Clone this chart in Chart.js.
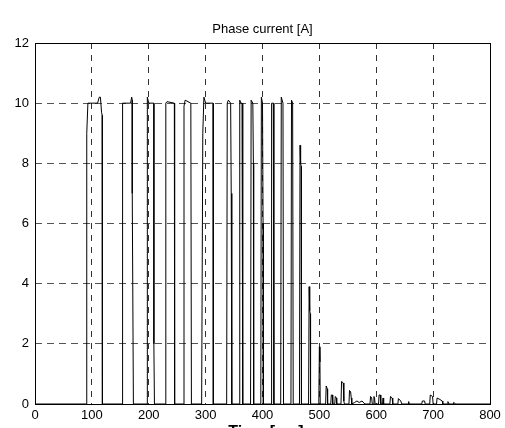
<!DOCTYPE html>
<html>
<head>
<meta charset="utf-8">
<script src="https://cdn.jsdelivr.net/npm/chart.js@4.4.0/dist/chart.umd.min.js"></script>
<style>
  html, body { margin: 0; padding: 0; background: #fff; }
</style>
</head>
<body>
<canvas id="chart" width="505" height="428"></canvas>
<script>
// phase current trace, time axis and current (A)
const chartTitle = 'Phase current [A]'
const xTitle = 'Time [ms]'
const xTicks = [0, 100, 200, 300, 400, 500, 600, 700, 800]
const yTicks = [0, 2, 4, 6, 8, 10, 12]

// big conduction pulses
const pulseTime = [
  0, 91, 91, 93, 110, 113, 115, 117, 118, 118, 119,
  153, 154, 168, 170, 171, 171, 173,
  197, 197, 198, 200, 209, 209, 210,
  230, 230, 232, 245, 245, 246,
  262, 262, 264, 274, 275,
  293, 295, 297, 300, 313, 313.5,
  337, 338, 340, 344, 345, 346,
  359, 360, 362, 364, 365, 365.5,
  379, 380, 383, 384, 384.5,
  397, 398, 400, 401, 401.5,
  415, 416, 419, 420,
  432, 433, 436, 437,
  450, 451, 453, 454,
  465, 466, 467, 468, 468.5,
  481, 482, 483, 484, 484.5,
  499, 500, 501, 501.5
]
const pulseCurrent = [
  0, 0, 9, 10, 10, 10.2, 10.2, 9.7, 9.6, 6, 0,
  0, 10, 10, 10.2, 10.1, 7, 0,
  0, 9, 10.2, 10, 10, 2, 0,
  0, 10, 10.05, 10, 7, 0,
  0, 9.9, 10.1, 10, 0,
  0, 9, 10.2, 10, 10, 0,
  0, 10, 10.1, 10, 7, 0,
  0, 10.1, 10, 10, 6, 0,
  0, 10.1, 10, 8, 0,
  0, 10.2, 10, 6, 0,
  0, 10, 10, 0,
  0, 10.2, 10, 0,
  0, 10.1, 10, 0,
  0, 8.6, 8.0, 7.9, 0,
  0, 3.9, 3.1, 3.0, 0,
  0, 1.9, 1.4, 0
]

// small residual ripples after switch-off
const tailTime = [
  511, 512, 514, 514.5, 520, 521, 523, 523.5, 527, 528, 530, 530.5,
  538, 539, 542, 543, 544, 552, 553, 555, 556, 557,
  562, 566, 570, 575, 580,
  589, 590, 592, 593, 595, 596, 597, 598,
  604, 605, 607, 608, 611, 612, 613,
  624, 625, 628, 629, 638, 639, 643, 645,
  656, 657, 658, 680, 681, 685, 686,
  694, 695, 699, 700, 706, 707, 712, 716, 717,
  725, 726, 728, 735, 736, 740, 800
]
const tailCurrent = [
  0, 0.6, 0.5, 0, 0, 0.3, 0.3, 0, 0, 0.25, 0.2, 0,
  0, 0.75, 0.7, 0.1, 0, 0, 0.45, 0.4, 0.2, 0,
  0.05, 0.1, 0.05, 0.1, 0,
  0, 0.25, 0.2, 0, 0, 0.25, 0.2, 0,
  0, 0.3, 0.3, 0, 0, 0.2, 0,
  0, 0.25, 0.2, 0, 0, 0.18, 0.1, 0,
  0, 0.08, 0, 0, 0.1, 0.1, 0,
  0, 0.3, 0.25, 0, 0, 0.2, 0.15, 0.1, 0,
  0, 0.08, 0, 0, 0.05, 0, 0
]

const times = pulseTime.concat(tailTime)
const currents = pulseCurrent.concat(tailCurrent)
const points = times.map((t, i) => ({x: t, y: currents[i]}))

const fontFamily = "'Liberation Sans', Arial, Helvetica, sans-serif"

// matlab style box round the plot, the title and the axis label under it
const boxAndTitle = {
  id: 'boxAndTitle',
  afterDraw(chart) {
    const {ctx, chartArea: a} = chart
    ctx.save()
    ctx.strokeStyle = '#000'
    ctx.lineWidth = 1
    ctx.strokeRect(Math.round(a.left) + 0.5, Math.round(a.top) + 0.5,
      Math.round(a.right - a.left), Math.round(a.bottom - a.top))
    ctx.fillStyle = '#000'
    ctx.font = '13px ' + fontFamily
    ctx.textAlign = 'center'
    ctx.textBaseline = 'middle'
    ctx.fillText(chartTitle, (a.left + a.right) / 2, 29)
    ctx.font = 'bold 16px ' + fontFamily
    ctx.textBaseline = 'top'
    ctx.fillText(xTitle, 266, 425)
    ctx.restore()
  }
}

new Chart(document.querySelector('#chart'), {
  type: 'line',
  data: {
    datasets: [{
      data: points,
      borderColor: '#000',
      borderWidth: 1,
      pointRadius: 0,
      tension: 0,
      fill: false
    }]
  },
  options: {
    responsive: false,
    animation: false,
    devicePixelRatio: 1,
    layout: { padding: { top: 43, right: 15, bottom: 0, left: 0 } },
    plugins: { legend: { display: false }, tooltip: { enabled: false } },
    scales: {
      x: {
        type: 'linear',
        min: 0,
        max: 800,
        afterBuildTicks: s => { s.ticks = xTicks.map(v => ({value: v})) },
        afterFit: s => { s.height = 24 },
        ticks: { color: '#000', font: { family: fontFamily, size: 13 }, padding: 4, maxRotation: 0 },
        grid: { color: '#333', lineWidth: 1, drawTicks: false },
        border: { display: false, dash: [6, 6] }
      },
      y: {
        min: 0,
        max: 12,
        afterBuildTicks: s => { s.ticks = yTicks.map(v => ({value: v})) },
        afterFit: s => { s.width = 35 },
        ticks: { color: '#000', font: { family: fontFamily, size: 13 }, padding: 6 },
        grid: { color: '#555', lineWidth: 1, drawTicks: false },
        border: { display: false, dash: [7, 5] }
      }
    }
  },
  plugins: [boxAndTitle]
})
</script>
</body>
</html>
